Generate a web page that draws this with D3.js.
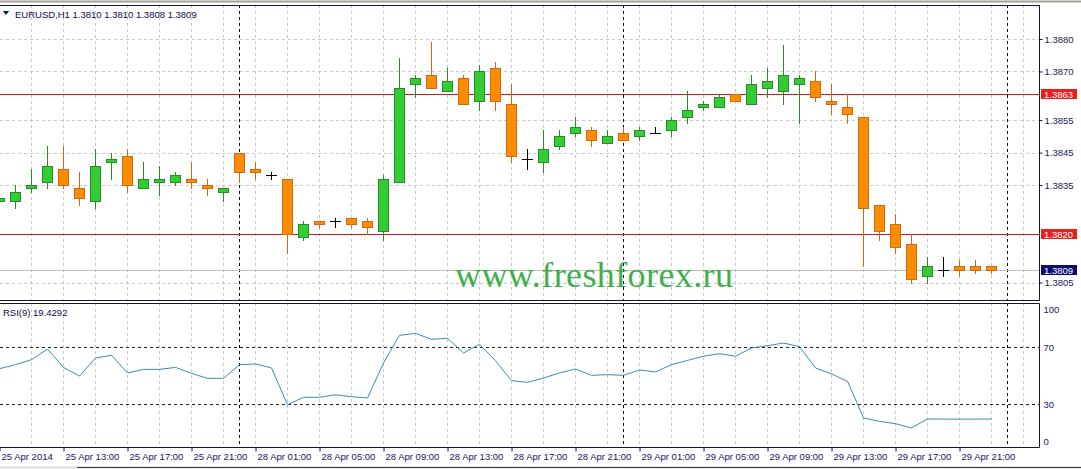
<!DOCTYPE html>
<html>
<head>
<meta charset="utf-8">
<title>EURUSD,H1</title>
<script src="https://cdnjs.cloudflare.com/ajax/libs/d3/7.8.5/d3.min.js"></script>
<style>
    body { margin: 0; background: #ffffff; }
    svg text { font-family: "Liberation Sans", Arial, sans-serif; }
</style>
</head>
<body>
<div id="chart"></div>
<script>
//------------------------------DATA------------------------------
// H1 bars, 25 Apr 2014 09:00 .. 29 Apr 2014 23:00
var openP  = [1.3830,1.3830,1.3834,1.3836,1.3840,1.3834,1.3830,1.3842,1.3844,1.3834,
              1.3836,1.3836,1.3837,1.3835,1.3833,1.3845,1.3840,1.3838,1.3837,1.3819,
              1.3824,1.3824,1.3825,1.3824,1.3821,1.3836,1.3866,1.3869,1.3864,1.3868,
              1.3861,1.3871,1.3860,1.3843,1.3842,1.3847,1.3851,1.3852,1.3848,1.3851,
              1.3850,1.3851,1.3852,1.3856,1.3859,1.3859,1.3863,1.3860,1.3865,1.3864,
              1.3866,1.3867,1.3861,1.3859,1.3856,1.3829,1.3823,1.3817,1.3807,1.3809,
              1.3810,1.3810,1.3810];
var highP  = [1.3832,1.3835,1.3840,1.3847,1.3847,1.3839,1.3846,1.3845,1.3846,1.3842,
              1.3841,1.3839,1.3842,1.3837,1.3834,1.3845,1.3842,1.3839,1.3837,1.3824,
              1.3824,1.3825,1.3825,1.3825,1.3838,1.3874,1.3869,1.3879,1.3871,1.3869,
              1.3872,1.3873,1.3866,1.3846,1.3852,1.3852,1.3856,1.3853,1.3852,1.3853,
              1.3853,1.3853,1.3856,1.3864,1.3861,1.3863,1.3863,1.3869,1.3871,1.3878,
              1.3869,1.3870,1.3866,1.3863,1.3856,1.3829,1.3826,1.3820,1.3813,1.3813,
              1.3812,1.3812,1.3810];
var lowP   = [1.3829,1.3828,1.3833,1.3834,1.3834,1.3829,1.3828,1.3837,1.3833,1.3834,
              1.3832,1.3835,1.3834,1.3832,1.3830,1.3836,1.3837,1.3837,1.3814,1.3818,
              1.3822,1.3822,1.3822,1.3820,1.3818,1.3836,1.3862,1.3865,1.3864,1.3860,
              1.3858,1.3858,1.3842,1.3840,1.3839,1.3846,1.3850,1.3847,1.3848,1.3849,
              1.3849,1.3851,1.3850,1.3854,1.3858,1.3859,1.3861,1.3860,1.3862,1.3860,
              1.3854,1.3861,1.3857,1.3854,1.3810,1.3818,1.3814,1.3805,1.3805,1.3807,
              1.3807,1.3808,1.3808];
var closeP = [1.3831,1.3833,1.3835,1.3841,1.3835,1.3831,1.3841,1.3843,1.3835,1.3837,
              1.3837,1.3838,1.3836,1.3834,1.3834,1.3839,1.3839,1.3838,1.3820,1.3823,
              1.3823,1.3824,1.3823,1.3822,1.3837,1.3865,1.3868,1.3865,1.3867,1.3860,
              1.3870,1.3861,1.3844,1.3843,1.3846,1.3850,1.3853,1.3849,1.3850,1.3849,
              1.3852,1.3851,1.3855,1.3858,1.3860,1.3862,1.3861,1.3866,1.3867,1.3869,
              1.3868,1.3862,1.3860,1.3857,1.3828,1.3821,1.3816,1.3806,1.3810,1.3809,
              1.3809,1.3809,1.3809];

// RSI(9) on close
var rsiValues = [54.8,57.6,61.1,68.6,55.7,49.6,62.3,64.2,51.8,54.3,
                 54.3,55.7,51.5,48.0,48.0,57.6,58.1,55.3,29.5,34.7,
                 34.7,36.5,35.1,34.2,58.8,78.2,79.6,75.4,76.1,65.8,
                 71.9,60.4,46.4,45.2,48.2,51.8,54.6,50.1,50.6,50.1,
                 53.9,52.5,57.6,60.6,63.5,65.3,63.5,69.3,70.9,72.8,
                 70.2,55.3,51.1,45.9,20.2,17.8,16.2,13.2,19.5,19.4,
                 19.4,19.4,19.4292];

// time axis labels every 4 bars
var timeLabelIdx = [0,4,8,12,16,20,24,28,32,36,40,44,48,52,56,60];
var timeLabels = ["25 Apr 2014","25 Apr 13:00","25 Apr 17:00","25 Apr 21:00",
                  "28 Apr 01:00","28 Apr 05:00","28 Apr 09:00","28 Apr 13:00",
                  "28 Apr 17:00","28 Apr 21:00","29 Apr 01:00","29 Apr 05:00",
                  "29 Apr 09:00","29 Apr 13:00","29 Apr 17:00","29 Apr 21:00"];
var daySeparators = [15, 39, 63];

var priceTicks = [1.3880, 1.3870, 1.3855, 1.3845, 1.3835, 1.3805];
var levelLines = [1.3863, 1.3820];
var bidPrice = 1.3809;
var rsiTicks = [100, 70, 30, 0];
var rsiLevels = [70, 30];

function init() {
    var w = 1081;
    var h = 469;

    var plotRight = 1039;   // price axis line
    var mainTop = 5, mainBottom = 300;
    var rsiTop = 303, rsiBottom = 447;

    var frameColor = "#14143c";
    var textColor = "#17175a";

    var svg = d3.select("#chart")
                .append("svg")
                .attr("width", w)
                .attr("height", h)
                .style("display", "block");

    //--------SCALES--------
    var xScale = d3.scaleLinear()
                    .domain([0, 65])          //bar index
                    .range([-1, plotRight]);  //16 px per bar

    var yScale = d3.scaleLinear()
                    .domain([1.3805, 1.3880])
                    .range([282.5, 39]);

    var rsiScale = d3.scaleLinear()
                    .domain([0, 100])
                    .range([446.75, 304.25]);

    //window strip on top
    svg.append("rect").attr("x", 0).attr("y", 0).attr("width", w).attr("height", 3)
        .attr("fill", "#d4d0c8");
    svg.append("line").attr("x1", 0).attr("x2", w).attr("y1", 1.5).attr("y2", 1.5)
        .attr("stroke", "#a0a0a0");

    //--------GRID--------
    var gridIdx = d3.range(0, 66, 2);
    var grid = svg.append("g");

    [[mainTop, mainBottom], [rsiTop, rsiBottom]].forEach(function(p) {
        grid.selectAll(null)
            .data(gridIdx)
            .enter()
            .append("line")
            .attr("x1", function(d) { return Math.round(xScale(d)) + 0.5; })
            .attr("x2", function(d) { return Math.round(xScale(d)) + 0.5; })
            .attr("y1", p[0])
            .attr("y2", p[1])
            .attr("stroke", "#c8c8c8")
            .attr("stroke-dasharray", "3,3");
    });

    grid.selectAll(null)
        .data(priceTicks)
        .enter()
        .append("line")
        .attr("x1", 0)
        .attr("x2", plotRight)
        .attr("y1", function(d) { return Math.round(yScale(d)) + 0.5; })
        .attr("y2", function(d) { return Math.round(yScale(d)) + 0.5; })
        .attr("stroke", "#c8c8c8")
        .attr("stroke-dasharray", "3,3");

    //day separators, both panels
    [[mainTop, mainBottom], [rsiTop, rsiBottom]].forEach(function(p) {
        svg.selectAll(null)
            .data(daySeparators)
            .enter()
            .append("line")
            .attr("x1", function(d) { return Math.round(xScale(d)) + 0.5; })
            .attr("x2", function(d) { return Math.round(xScale(d)) + 0.5; })
            .attr("y1", p[0])
            .attr("y2", p[1])
            .attr("stroke", "#000000")
            .attr("stroke-dasharray", "3,3");
    });

    //--------HORIZONTAL LINES--------
    svg.append("line")
        .attr("x1", 0).attr("x2", plotRight)
        .attr("y1", Math.round(yScale(bidPrice)) + 0.5)
        .attr("y2", Math.round(yScale(bidPrice)) + 0.5)
        .attr("stroke", "#c0c0c0");

    svg.selectAll(null)
        .data(levelLines)
        .enter()
        .append("line")
        .attr("x1", 0).attr("x2", plotRight)
        .attr("y1", function(d) { return Math.round(yScale(d)) + 0.5; })
        .attr("y2", function(d) { return Math.round(yScale(d)) + 0.5; })
        .attr("stroke", "#d01818");

    //watermark
    svg.append("text")
        .attr("x", 455)
        .attr("y", 287)
        .style("font-family", "'Liberation Serif', 'Times New Roman', serif")
        .attr("font-size", "36px")
        .attr("letter-spacing", "0.4px")
        .attr("fill", "#3db04c")
        .text("www.freshforex.ru");

    //--------CANDLES--------
    var bars = d3.range(openP.length).map(function(i) {
        return {i: i, o: openP[i], h: highP[i], l: lowP[i], c: closeP[i]};
    });

    var upFill = "#32cd32", upLine = "#2b8a2b";
    var dnFill = "#ff8c00", dnLine = "#cf6a12";

    function lineColor(d) {
        if (d.c > d.o) { return upLine; }
        else if (d.c < d.o) { return dnLine; }
        return "#000000";   //doji
    }

    var candle = svg.append("g")
                    .selectAll("g")
                    .data(bars)
                    .enter()
                    .append("g");

    //wicks
    candle.append("line")
        .attr("x1", function(d) { return Math.round(xScale(d.i)) + 0.5; })
        .attr("x2", function(d) { return Math.round(xScale(d.i)) + 0.5; })
        .attr("y1", function(d) { return Math.round(yScale(d.h)); })
        .attr("y2", function(d) { return Math.round(yScale(d.l)) + 1; })
        .attr("stroke", lineColor);

    //bodies
    candle.filter(function(d) { return d.c != d.o; })
        .append("rect")
        .attr("x", function(d) { return Math.round(xScale(d.i)) - 4.5; })
        .attr("y", function(d) { return Math.round(yScale(Math.max(d.o, d.c))) + 0.5; })
        .attr("width", 10)
        .attr("height", function(d) {
            return Math.abs(Math.round(yScale(d.o)) - Math.round(yScale(d.c)));
        })
        .attr("fill", function(d) { return d.c > d.o ? upFill : dnFill; })
        .attr("stroke", lineColor);

    //doji: horizontal tick
    candle.filter(function(d) { return d.c == d.o; })
        .append("line")
        .attr("x1", function(d) { return Math.round(xScale(d.i)) - 5; })
        .attr("x2", function(d) { return Math.round(xScale(d.i)) + 6; })
        .attr("y1", function(d) { return Math.round(yScale(d.o)) + 0.5; })
        .attr("y2", function(d) { return Math.round(yScale(d.o)) + 0.5; })
        .attr("stroke", "#000000");

    //--------RSI--------
    svg.selectAll(null)
        .data(rsiLevels)
        .enter()
        .append("line")
        .attr("x1", 0).attr("x2", plotRight)
        .attr("y1", function(d) { return Math.round(rsiScale(d)) + 0.5; })
        .attr("y2", function(d) { return Math.round(rsiScale(d)) + 0.5; })
        .attr("stroke", "#1e2a1e")
        .attr("stroke-dasharray", "3,3");

    var rsiLine = d3.line()
                    .x(function(d, i) { return xScale(i) + 0.5; })
                    .y(function(d) { return rsiScale(d); });

    svg.append("path")
        .datum(rsiValues)
        .attr("d", rsiLine)
        .attr("fill", "none")
        .attr("stroke", "#3b8cb4")
        .attr("stroke-width", 1);

    //--------FRAMES--------
    svg.append("path")
        .attr("d", "M0," + (mainTop + 0.5) + "H" + (plotRight + 0.5) + "V" + (mainBottom + 0.5) + "H0")
        .attr("fill", "none")
        .attr("stroke", frameColor);
    svg.append("path")
        .attr("d", "M0," + (rsiTop + 0.5) + "H" + (plotRight + 0.5) + "V" + (rsiBottom + 0.5) + "H0")
        .attr("fill", "none")
        .attr("stroke", frameColor);

    //bottom window edge
    svg.append("rect").attr("x", 0).attr("y", 466).attr("width", w).attr("height", 3)
        .attr("fill", "#e6e6e6");
    svg.append("line").attr("x1", 77).attr("x2", w).attr("y1", 467.5).attr("y2", 467.5)
        .attr("stroke", "#404040");

    //--------PRICE AXIS--------
    var yAxis = d3.axisRight(yScale)
                    .tickValues(priceTicks)
                    .tickSize(3)
                    .tickPadding(2)
                    .tickFormat(d3.format(".4f"));

    var gy = svg.append("g")
        .attr("transform", "translate(" + (plotRight + 0.5) + ",0)")
        .call(yAxis);
    gy.select(".domain").remove();
    gy.selectAll(".tick line").attr("stroke", frameColor);
    gy.selectAll(".tick text")
        .attr("fill", textColor)
        .attr("font-size", "9.5px")
        .attr("font-family", "'Liberation Sans', Arial, sans-serif");

    //price tags for horizontal lines
    var tags = levelLines.map(function(p) { return {p: p, fill: "#ee1c1c"}; })
                .concat([{p: bidPrice, fill: "#0c0c72"}]);

    var tag = svg.selectAll(null)
        .data(tags)
        .enter()
        .append("g")
        .attr("transform", function(d) {
            return "translate(1041," + Math.round(yScale(d.p)) + ")";
        });
    tag.append("rect")
        .attr("x", 0).attr("y", -5)
        .attr("width", 36).attr("height", 10)
        .attr("fill", function(d) { return d.fill; });
    tag.append("text")
        .attr("x", 3).attr("y", 4)
        .attr("font-size", "9.5px")
        .attr("fill", "#ffffff")
        .text(function(d) { return d3.format(".4f")(d.p); });

    //--------RSI AXIS--------
    var rsiAxis = d3.axisRight(rsiScale)
                    .tickValues(rsiTicks)
                    .tickSize(0)
                    .tickPadding(4)
                    .tickFormat(d3.format("d"));
    var gr = svg.append("g")
        .attr("transform", "translate(" + (plotRight + 0.5) + ",0)")
        .call(rsiAxis);
    gr.select(".domain").remove();
    gr.selectAll(".tick text")
        .attr("fill", textColor)
        .attr("font-size", "9.5px")
        .attr("font-family", "'Liberation Sans', Arial, sans-serif")
        .attr("dy", function(d) {   //keep the end labels inside the panel
            if (d == 0) return "-0.25em";
            return "0.32em";
        })
        .attr("transform", function(d) {
            if (d == 100) return "translate(0,5)";
            return null;
        });

    //--------TIME AXIS--------
    var xAxis = d3.axisBottom(xScale)
                    .tickValues(timeLabelIdx)
                    .tickSize(4)
                    .tickFormat(function(d, i) { return timeLabels[i]; });
    var gx = svg.append("g")
        .attr("transform", "translate(0.5," + (rsiBottom + 0.5) + ")")
        .call(xAxis);
    gx.select(".domain").remove();
    gx.selectAll(".tick line").attr("stroke", frameColor);
    gx.selectAll(".tick text")
        .attr("fill", textColor)
        .attr("font-size", "9.5px")
        .attr("font-family", "'Liberation Sans', Arial, sans-serif")
        .attr("text-anchor", "start")
        .attr("x", 1.5)
        .attr("y", 6)
        .attr("dy", "0.71em");

    //--------TITLES--------
    svg.append("path")
        .attr("d", "M3,11H9L6,15Z")
        .attr("fill", "#0c0c4a");
    svg.append("text")
        .attr("x", 15).attr("y", 17.5)
        .attr("font-size", "9.5px")
        .attr("fill", "#0c0c4a")
        .text("EURUSD,H1  1.3810 1.3810 1.3808 1.3809");

    svg.append("text")
        .attr("x", 3).attr("y", 315.5)
        .attr("font-size", "9.5px")
        .attr("fill", "#0c0c4a")
        .text("RSI(9) " + rsiValues[rsiValues.length - 1].toFixed(4));
}

window.onload = init;
</script>
</body>
</html>
